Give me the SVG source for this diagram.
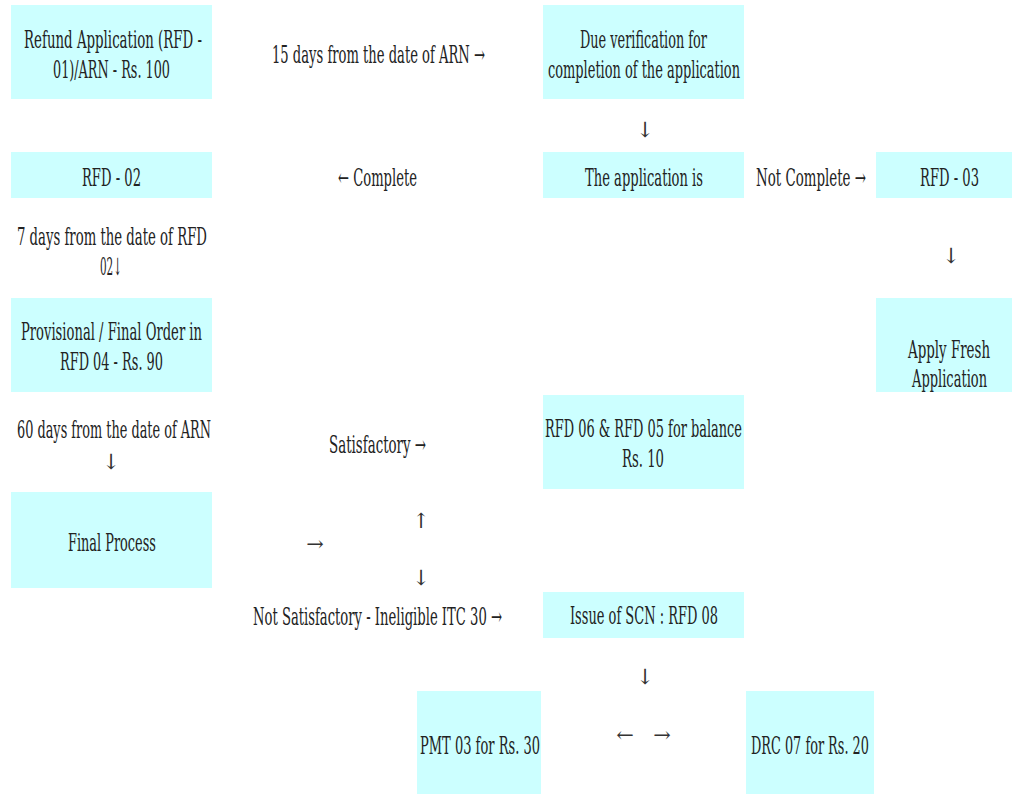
<svg xmlns="http://www.w3.org/2000/svg" width="1012" height="794" viewBox="0 0 1012 794">
<style>
.box{fill:#ccffff;stroke:none}
text{font-family:"DejaVu Serif","Liberation Serif",serif;font-size:24px;fill:#222;text-anchor:middle}
.t{transform:scale(0.55,1)}
.ar{font-family:"DejaVu Serif","Liberation Serif",serif;font-size:21px;fill:#333}
</style>
<rect width="1012" height="794" fill="#ffffff"/>
<g id="n1"><rect class="box" x="11" y="5" width="201" height="94"/>
<text class="t" x="205.5" y="48" textLength="323.6" lengthAdjust="spacingAndGlyphs">Refund Application (RFD -</text>
<text class="t" x="202.7" y="78" textLength="212.7" lengthAdjust="spacingAndGlyphs">01)/ARN - Rs. 100</text></g>
<g id="n2"><rect class="box" x="543" y="5" width="201" height="94"/>
<text class="t" x="1170" y="48" textLength="230.9" lengthAdjust="spacingAndGlyphs">Due verification for</text>
<text class="t" x="1170.9" y="78" textLength="349.1" lengthAdjust="spacingAndGlyphs">completion of the application</text></g>
<g id="n3"><rect class="box" x="11" y="152" width="201" height="46"/>
<text class="t" x="202.7" y="186" textLength="107.3" lengthAdjust="spacingAndGlyphs">RFD - 02</text></g>
<g id="n4"><rect class="box" x="543" y="152" width="201" height="46"/>
<text class="t" x="1170.9" y="186" textLength="214.5" lengthAdjust="spacingAndGlyphs">The application is</text></g>
<g id="n5"><rect class="box" x="876" y="152" width="136" height="46"/>
<text class="t" x="1726.4" y="186" textLength="107.3" lengthAdjust="spacingAndGlyphs">RFD - 03</text></g>
<g id="n6"><rect class="box" x="11" y="298" width="201" height="94"/>
<text class="t" x="202.7" y="340" textLength="329.1" lengthAdjust="spacingAndGlyphs">Provisional / Final Order in</text>
<text class="t" x="202.7" y="370" textLength="187.3" lengthAdjust="spacingAndGlyphs">RFD 04 - Rs. 90</text></g>
<g id="n7"><rect class="box" x="876" y="298" width="136" height="94"/>
<text class="t" x="1725.5" y="358" textLength="149.1" lengthAdjust="spacingAndGlyphs">Apply Fresh</text>
<text class="t" x="1726.4" y="387" textLength="136.4" lengthAdjust="spacingAndGlyphs">Application</text></g>
<g id="n8"><rect class="box" x="543" y="395" width="201" height="94"/>
<text class="t" x="1170" y="437" textLength="358.2" lengthAdjust="spacingAndGlyphs">RFD 06 &amp; RFD 05 for balance</text>
<text class="t" x="1169.1" y="467" textLength="76.4" lengthAdjust="spacingAndGlyphs">Rs. 10</text></g>
<g id="n9"><rect class="box" x="11" y="492" width="201" height="96"/>
<text class="t" x="203.6" y="551" textLength="160" lengthAdjust="spacingAndGlyphs">Final Process</text></g>
<g id="n10"><rect class="box" x="543" y="592" width="201" height="46"/>
<text class="t" x="1170.9" y="624" textLength="269.1" lengthAdjust="spacingAndGlyphs">Issue of SCN : RFD 08</text></g>
<g id="n11"><rect class="box" x="417" y="691" width="124" height="103"/>
<text class="t" x="872.7" y="754" textLength="218.2" lengthAdjust="spacingAndGlyphs">PMT 03 for Rs. 30</text></g>
<g id="n12"><rect class="box" x="746" y="691" width="128" height="103"/>
<text class="t" x="1472.7" y="754" textLength="214.5" lengthAdjust="spacingAndGlyphs">DRC 07 for Rs. 20</text></g>
<g id="connectors">
<text class="t" x="688.2" y="63" textLength="387.3" lengthAdjust="spacingAndGlyphs">15 days from the date of ARN →</text>
<text class="ar" x="645" y="137">↓</text>
<text class="t" x="686.4" y="186" textLength="143.6" lengthAdjust="spacingAndGlyphs">← Complete</text>
<text class="t" x="1474.5" y="186" textLength="200" lengthAdjust="spacingAndGlyphs">Not Complete →</text>
<text class="ar" x="951" y="263">↓</text>
<text class="t" x="203.6" y="245" textLength="345.5" lengthAdjust="spacingAndGlyphs">7 days  from the date of RFD</text>
<text class="t" x="201.8" y="275" textLength="40" lengthAdjust="spacingAndGlyphs">02↓</text>
<text class="t" x="207.3" y="438" textLength="352.7" lengthAdjust="spacingAndGlyphs">60 days from the date of ARN</text>
<text class="ar" x="111" y="469">↓</text>
<text class="t" x="686.4" y="453" textLength="176.4" lengthAdjust="spacingAndGlyphs">Satisfactory →</text>
<text class="ar" x="315" y="551">→</text>
<text class="ar" x="421" y="528">↑</text>
<text class="ar" x="421" y="585">↓</text>
<text class="t" x="686.4" y="625" textLength="452.7" lengthAdjust="spacingAndGlyphs">Not Satisfactory - Ineligible ITC 30 →</text>
<text class="ar" x="645" y="684">↓</text>
<text class="ar" x="625" y="742">←</text>
<text class="ar" x="662" y="742">→</text>
</g>
</svg>
